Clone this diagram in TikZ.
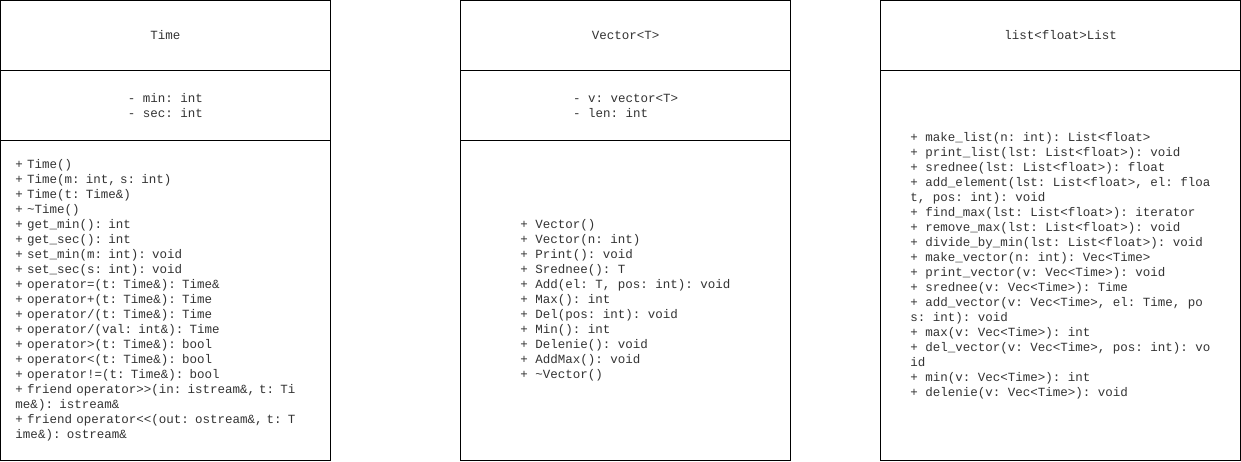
\documentclass[tikz,border=0pt]{standalone}
\usepackage{fontspec}
\setmonofont{Liberation Mono}
\begin{document}
\begin{tikzpicture}
  [x=1pt,y=-1pt,every node/.style={rectangle, draw=black, line width=1pt, inner sep=0pt, text=black!80, align=left, font=\ttfamily\fontsize{12.5}{15}\selectfont},
   narrow/.style={minimum width=330pt}, wide/.style={minimum width=360pt},
   head/.style={minimum height=70pt}]
  \useasboundingbox (0,0) rectangle (1241,461);

  %%%%%%%%%%%%%%%%%%%%%% TIME %%%%%%%%%%%%%%%%%%%%%%

  \node[narrow,head] (time_head) at (165.5,35.5)  {Time};
  \node[narrow,head] (time_attr) at (165.5,105.5) {- min: int\\- sec: int};
  \node[narrow,minimum height=320pt,text width=300pt] (time_ops) at (165.5,300.5)
    {+ Time()\\
     + Time(m: int, s: int)\\
     + Time(t: Time\&)\\
     + \textasciitilde Time()\\
     + get\_min(): int\\
     + get\_sec(): int\\
     + set\_min(m: int): void\\
     + set\_sec(s: int): void\\
     + operator=(t: Time\&): Time\&\\
     + operator+(t: Time\&): Time\\
     + operator/(t: Time\&): Time\\
     + operator/(val: int\&): Time\\
     + operator>(t: Time\&): bool\\
     + operator<(t: Time\&): bool\\
     + operator!=(t: Time\&): bool\\
     + friend operator>>(in: istream\&, t: Ti\\
     me\&): istream\&\\
     + friend operator<<(out: ostream\&, t: T\\
     ime\&): ostream\&};

  %%%%%%%%%%%%%%%%%%%%%% VECTOR %%%%%%%%%%%%%%%%%%%%%%

  \node[narrow,head] (vec_head) at (625.5,35.5)  {Vector<T>};
  \node[narrow,head] (vec_attr) at (625.5,105.5) {- v: vector<T>\\- len: int};
  \node[narrow,minimum height=320pt] (vec_ops) at (625.5,300.5)
    {+ Vector()\\
     + Vector(n: int)\\
     + Print(): void\\
     + Srednee(): T\\
     + Add(el: T, pos: int): void\\
     + Max(): int\\
     + Del(pos: int): void\\
     + Min(): int\\
     + Delenie(): void\\
     + AddMax(): void\\
     + \textasciitilde Vector()};

  %%%%%%%%%%%%%%%%%%%%%% LIST %%%%%%%%%%%%%%%%%%%%%%

  \node[wide,head] (list_head) at (1060.5,35.5) {list<float>List};
  \node[wide,minimum height=390pt] (list_ops) at (1060.5,265.5)
    {+ make\_list(n: int): List<float>\\
     + print\_list(lst: List<float>): void\\
     + srednee(lst: List<float>): float\\
     + add\_element(lst: List<float>, el: floa\\
     t, pos: int): void\\
     + find\_max(lst: List<float>): iterator\\
     + remove\_max(lst: List<float>): void\\
     + divide\_by\_min(lst: List<float>): void\\
     + make\_vector(n: int): Vec<Time>\\
     + print\_vector(v: Vec<Time>): void\\
     + srednee(v: Vec<Time>): Time\\
     + add\_vector(v: Vec<Time>, el: Time, po\\
     s: int): void\\
     + max(v: Vec<Time>): int\\
     + del\_vector(v: Vec<Time>, pos: int): vo\\
     id\\
     + min(v: Vec<Time>): int\\
     + delenie(v: Vec<Time>): void};

\end{tikzpicture}
\end{document}
